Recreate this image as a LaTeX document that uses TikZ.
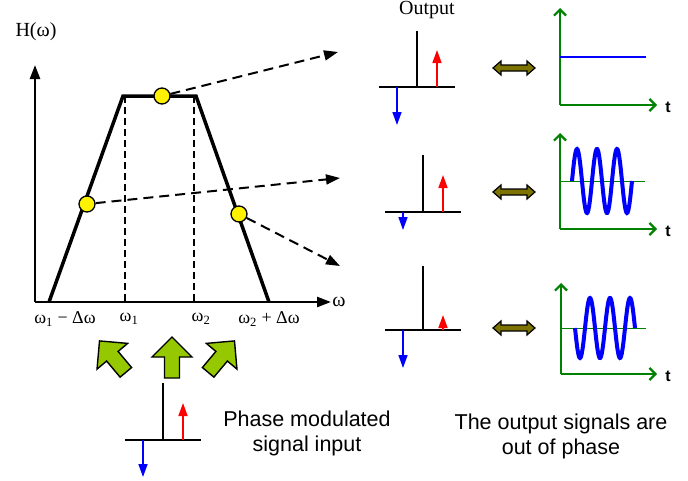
\documentclass[tikz,border=0pt]{standalone}
\usepackage{fontspec}
\setmainfont{Liberation Serif}
\newfontfamily\sansfont{Liberation Sans}
\usetikzlibrary{arrows.meta}

\definecolor{plotgreen}{RGB}{0,130,0}
\definecolor{fatgreen}{RGB}{150,200,0}
\definecolor{dblolive}{RGB}{125,115,0}

\begin{document}
\begin{tikzpicture}[x=1pt,y=-1pt,thick]

    \tikzset{dot/.style={%
      circle,%
      draw,%
      fill=yellow,%
      line width=1.3pt,%
      inner sep=0pt,%
      minimum size=16pt}%
    };
    \tikzset{dasharrow/.style={%
      dash pattern=on 10pt off 6pt,%
      line width=2pt,%
      -{Triangle[length=14pt,width=10pt]}}%
    };
    \tikzset{axis/.style={line width=2.5pt, -{Triangle[length=14pt,width=10pt]}}};
    \tikzset{greenaxis/.style={plotgreen, line width=2.2pt, -{Straight Barb[length=6pt,width=12pt]}}};
    \tikzset{uparrow/.style={red, line width=1.6pt, -{Triangle[length=13pt,width=9pt]}}};
    \tikzset{downarrow/.style={blue, line width=1.6pt, -{Triangle[length=13pt,width=9pt]}}};
    \tikzset{wave/.style={blue, line width=4pt}};
    \tikzset{lbl/.style={font=\fontsize{18}{20}\selectfont}};
    \tikzset{sanslbl/.style={font=\sansfont\fontsize{21.5}{25}\selectfont, align=center}};

    \useasboundingbox (0,0) rectangle (688,480);

    %%%%%%%%%%%%%%%%%%%%%
    % transfer function %
    %%%%%%%%%%%%%%%%%%%%%
    \coordinate (orig) at (35,302);
    \coordinate (ytop) at (35,65);
    \coordinate (xend) at (331,302);
    \draw[axis] (orig) -- (ytop);
    \draw[axis] (orig) -- (xend);
    \node (hw) at (36,32) {\fontsize{20}{24}\selectfont H(ω)};
    \node (wlbl) at (339,302) {\fontsize{20}{24}\selectfont ω};

    \draw[dash pattern=on 7pt off 4pt, line width=1.3pt] (125,96) -- (125,302);
    \draw[dash pattern=on 7pt off 4pt, line width=1.3pt] (194,96) -- (194,302);
    \draw[line width=3.5pt, line join=miter]
      (49,302) -- (123,96) -- (196,96) -- (269,302);

    \node[lbl] (w1m) at (65,319) {ω\textsubscript{1} − Δω};
    \node[lbl] (w1) at (129,319) {ω\textsubscript{1}};
    \node[lbl] (w2) at (201,319) {ω\textsubscript{2}};
    \node[lbl] (w2p) at (269,319) {ω\textsubscript{2} + Δω};

    \node[dot] (ptc) at (162,96) {};
    \node[dot] (ptl) at (87,204) {};
    \node[dot] (ptr) at (239,214) {};

    \coordinate (endc) at (338,52);
    \coordinate (endl) at (340,178);
    \coordinate (endr) at (340,266);
    \draw[dasharrow] (ptc) -- (endc);
    \draw[dasharrow] (ptl) -- (endl);
    \draw[dasharrow] (ptr) -- (endr);

    %%%%%%%%%%%%%%%%
    % input arrows %
    %%%%%%%%%%%%%%%%
    \foreach \cx/\cy/\ang in {113/357/40, 172/358/0, 221/357/-40} {
      \draw[fill=fatgreen, line width=1.4pt, shift={(\cx,\cy)}, rotate=\ang]
        (0,-21) -- (20,-1) -- (7.5,-1) -- (7.5,20) -- (-7.5,20) -- (-7.5,-1) -- (-20,-1) -- cycle;
    }

    %%%%%%%%%%%%%
    % spectra   %
    %%%%%%%%%%%%%
    \foreach \bx/\by/\top/\up/\down in {125/440/383/403/477, 379/87/31/50/125, 385/212/155/175/230, 385/330/266/315/368} {
      \draw[line width=1.8pt] (\bx,\by) -- ++(76,0);
      \draw[line width=1.8pt] (\bx+38,\by) -- (\bx+38,\top);
      \draw[uparrow] (\bx+58,\by) -- (\bx+58,\up);
      \draw[downarrow] (\bx+18,\by) -- (\bx+18,\down);
    }
    \node (outlbl) at (427,10) {\fontsize{20}{24}\selectfont Output};

    %%%%%%%%%%%%%%%%%
    % double arrows %
    %%%%%%%%%%%%%%%%%
    \foreach \cy in {68, 192, 328} {
      \draw[fill=dblolive, line width=1.2pt, shift={(514,\cy)}]
        (-21,0) -- (-13,-7) -- (-13,-3) -- (13,-3) -- (13,-7) -- (21,0)
        -- (13,7) -- (13,3) -- (-13,3) -- (-13,7) -- cycle;
    }

    %%%%%%%%%%%%%%%
    % time plots  %
    %%%%%%%%%%%%%%%
    \foreach \ox/\oy/\oh in {560/105/8, 560/229/133, 561/374/283} {
      \draw[greenaxis] (\ox,\oy) -- (\ox,\oh);
      \draw[greenaxis] (\ox,\oy) -- (657,\oy);
      \node[font=\sansfont\bfseries\fontsize{16}{18}\selectfont] at (668,\oy+2) {t};
    }
    \draw[blue, line width=2.8pt] (560,57) -- (646,57);

    \draw[plotgreen, line width=0.8pt] (560,181) -- (645,181);
    \draw[wave] plot[domain=0:60, samples=120, smooth] ({572+\x}, {181-32*sin(18*\x)});

    \draw[plotgreen, line width=0.8pt] (561,328) -- (646,328);
    \draw[wave] plot[domain=0:60, samples=120, smooth] ({575+\x}, {328+30*sin(18*\x)});

    %%%%%%%%%%%%
    % captions %
    %%%%%%%%%%%%
    \node[sanslbl] (inlbl) at (307,433) {Phase modulated\\signal input};
    \node[sanslbl] (outcap) at (561,436) {The output signals are\\out of phase};

\end{tikzpicture}
\end{document}
